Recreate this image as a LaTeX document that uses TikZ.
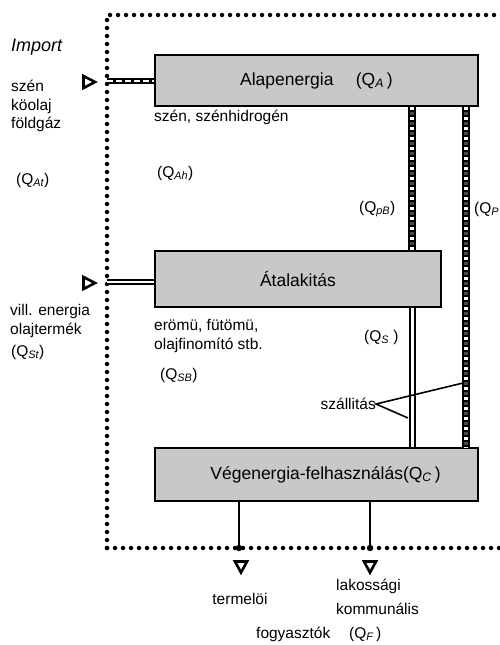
\documentclass[tikz,border=0pt]{standalone}
\usepackage{fontspec}
\setmainfont{Liberation Sans}
\usetikzlibrary{shapes.geometric}
\definecolor{boxgray}{RGB}{200,200,200}
\definecolor{darkcell}{RGB}{70,70,70}
\newcommand{\Qsub}[1]{Q\textsubscript{\itshape #1}}
\begin{document}
\begin{tikzpicture}[x=1pt,y=-1pt,
  box/.style={draw,line width=1.8pt,fill=boxgray,inner sep=0pt,font=\fontsize{17.5}{20}\selectfont},
  lbl/.style={inner sep=0pt,font=\fontsize{15.5}{18.5}\selectfont,align=left},
  dotline/.style={line width=4.5pt,line cap=round,dash pattern=on 0pt off 8pt},
  dashpipe/.style={line width=6pt,postaction={draw=white,line width=2pt,dash pattern=on 6pt off 3pt}},
  dblpipe/.style={draw,line width=2pt,double=white,double distance=2.5pt},
  checker/.style={line width=7.5pt,
     postaction={draw=white,line width=3.5pt,dash pattern=on 3pt off 7pt},
     postaction={draw=darkcell,line width=3.5pt,dash pattern=on 3pt off 7pt,dash phase=5pt}},
  tri/.style={draw,line width=2.6pt,line join=miter},
  conn/.style={line width=2.2pt},
  thin/.style={line width=1.6pt}
]
\useasboundingbox (0,0) rectangle (499,645);
% dotted system border
\coordinate (cTL) at (107,15);
\coordinate (cBL) at (107,548);
\coordinate (cTR) at (505,15);
\coordinate (cBR) at (505,548);
\draw[dotline] (cBL) -- (cTL) -- (cTR);
\draw[dotline] (cBL) -- (cBR);

% boxes
\node[box,minimum width=323pt,minimum height=51pt] (A) at (316.5,80.5) {Alapenergia\quad\ (\Qsub{A}\,)};
\node[box,minimum width=286pt,minimum height=56pt] (B) at (298,279) {Átalakitás};
\node[box,minimum width=323pt,minimum height=53pt] (C) at (316.5,474.5) {\hspace*{18pt}Végenergia-felhasználás(\Qsub{C}\,)};

% pipe x positions
\coordinate (p1) at (412,0);
\coordinate (p2) at (466,0);
\draw[checker] (A.south -| p1) -- (B.north -| p1);
\draw[dblpipe,double distance=3pt] (B.south -| p1) -- (C.north -| p1);
\draw[checker] (A.south -| p2) -- (C.north -| p2);

% import pipes
\coordinate (i1) at (107,81);
\coordinate (i2) at (107,282);
\draw[dashpipe] (i1) -- (i1 -| A.west);
\draw[dblpipe] (i2) -- (i2 -| B.west);
\coordinate (t1) at (89,82);
\coordinate (t2) at (89,283);
\draw[tri] (t1) ++(-5.5,-6) -- ++(11.5,6) -- ++(-11.5,6) -- cycle;
\draw[tri] (t2) ++(-5.5,-6) -- ++(11.5,6) -- ++(-11.5,6) -- cycle;

% outputs
\coordinate (o1) at (239,548);
\coordinate (o2) at (370,548);
\draw[conn] (o1 |- C.south) -- (o1);
\draw[conn] (o2 |- C.south) -- (o2);
\fill (o1) circle (3.2pt);
\fill (o2) circle (3.2pt);
\coordinate (t3) at (241,567);
\coordinate (t4) at (370,567);
\draw[tri] (t3) ++(-6,-5.5) -- ++(12,0) -- ++(-6,11) -- cycle;
\draw[tri] (t4) ++(-6,-5.5) -- ++(12,0) -- ++(-6,11) -- cycle;

% labels
\node[lbl,anchor=west,font=\fontsize{18}{20}\selectfont\itshape] (imp) at (11,47) {Import};
\node[lbl,anchor=west] (l1) at (11,106) {szén\\köolaj\\földgáz};
\node[lbl,anchor=west] (l2) at (16,180) {(\Qsub{At})};
\node[lbl,anchor=west] (l3) at (154,117) {szén, szénhidrogén};
\node[lbl,anchor=west] (l4) at (157,173) {(\Qsub{Ah})};
\node[lbl,anchor=west] (l5) at (359,209) {(\Qsub{pB})};
\node[lbl,anchor=west] (l6) at (474,209) {(\Qsub{P}};
\node[lbl,anchor=west] (l7) at (10,321) {vill. energia\\olajtermék};
\node[lbl,anchor=west] (l8) at (11,352) {(\Qsub{St})};
\node[lbl,anchor=west] (l9) at (154,336) {erömü, fütömü,\\olajfinomító stb.};
\node[lbl,anchor=west] (l10) at (160,375) {(\Qsub{SB})};
\node[lbl,anchor=west] (l11) at (364,337) {(\Qsub{S}\ )};
\node[lbl,anchor=east] (sz) at (376,404) {szállitás};
\coordinate (s1) at (463,383);
\coordinate (s2) at (408,418);
\draw[thin] (s1) -- (sz.east) -- (s2);
\node[lbl] (l12) at (240,599) {termelöi};
\node[lbl,anchor=west,font=\fontsize{15.5}{24}\selectfont] (l13) at (336,597) {lakossági\\kommunális};
\node[lbl,anchor=west] (l14) at (256,634) {fogyasztók};
\node[lbl,anchor=west] (l15) at (349,634) {(\Qsub{F}\,)};
\end{tikzpicture}
\end{document}
